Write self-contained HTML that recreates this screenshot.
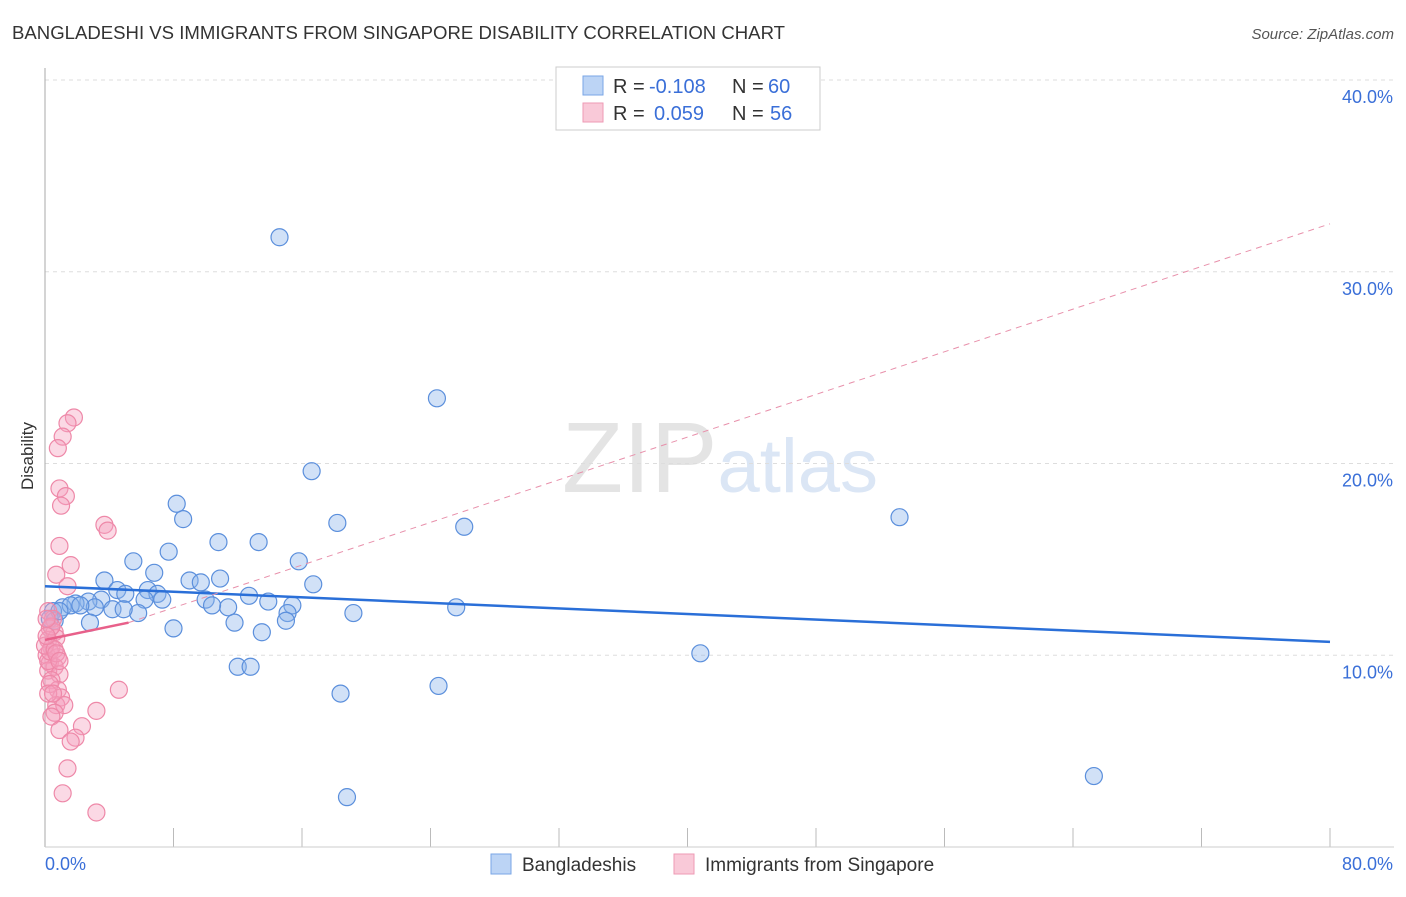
<!DOCTYPE html>
<html><head><meta charset="utf-8"><style>
body{margin:0;background:#fff;font-family:"Liberation Sans",sans-serif}
svg text{font-family:"Liberation Sans",sans-serif}
</style></head><body>
<svg id="chart" width="1406" height="892" xmlns="http://www.w3.org/2000/svg">
<text x="12" y="39" font-size="18" fill="#333" textLength="773" lengthAdjust="spacingAndGlyphs">BANGLADESHI VS IMMIGRANTS FROM SINGAPORE DISABILITY CORRELATION CHART</text>
<text x="1394" y="39" font-size="15" fill="#555" text-anchor="end" font-style="italic">Source: ZipAtlas.com</text>
<text x="720" y="492" font-size="100" fill="#e4e4e4" text-anchor="middle" font-family="Liberation Serif">ZIP<tspan fill="#dbe6f5" font-family="Liberation Sans" font-size="76">atlas</tspan></text>
<g id="grid"></g>
<line x1="45" y1="68" x2="45" y2="847" stroke="#aaa"/>
<line x1="45" y1="847" x2="1394" y2="847" stroke="#ccc"/>
<text transform="translate(33,456) rotate(-90)" font-size="17" fill="#333" text-anchor="middle">Disability</text>
<text x="45" y="870" font-size="18" fill="#3a6fd8">0.0%</text>
<text x="1393" y="870" font-size="18" fill="#3a6fd8" text-anchor="end">80.0%</text>
<g id="marks"></g>
<g>
<rect x="556" y="67" width="264" height="63" fill="#fff" stroke="#ccc"/>
<rect x="583" y="76" width="20" height="19" fill="#bcd4f5" stroke="#7aa6e6"/>
<rect x="583" y="103" width="20" height="19" fill="#f9c9d8" stroke="#ee9ab4"/>
<text x="613" y="93" font-size="20" fill="#333">R =</text>
<text x="649" y="93" font-size="20" fill="#3a6fd8">-0.108</text>
<text x="732" y="93" font-size="20" fill="#333">N =</text>
<text x="768" y="93" font-size="20" fill="#3a6fd8">60</text>
<text x="613" y="120" font-size="20" fill="#333">R =</text>
<text x="654" y="120" font-size="20" fill="#3a6fd8">0.059</text>
<text x="732" y="120" font-size="20" fill="#333">N =</text>
<text x="770" y="120" font-size="20" fill="#3a6fd8">56</text>
</g>
<g>
<rect x="491" y="854" width="20" height="20" fill="#bcd4f5" stroke="#7aa6e6"/>
<text x="522" y="871" font-size="19" fill="#333">Bangladeshis</text>
<rect x="674" y="854" width="20" height="20" fill="#f9c9d8" stroke="#ee9ab4"/>
<text x="705" y="871" font-size="19" fill="#333">Immigrants from Singapore</text>
</g>
</svg>
<script>
const yTicks=[10,20,30,40];
const xTickVals=[0,8,16,24,32,40,48,56,64,72,80];
const blueX=[14.6,24.4,16.6,53.2,18.2,26.1,8.2,8.6,10.8,13.3,7.7,5.5,15.8,6.8,3.7,9.0,9.7,10.9,16.7,4.5,5.0,6.4,7.0,7.3,6.2,12.7,10.0,13.9,15.4,11.4,10.4,3.5,2.7,1.9,1.1,0.5,0.3,5.8,4.2,3.1,15.1,15.0,19.2,25.6,11.8,2.8,8.0,13.5,12.0,12.8,40.8,18.4,24.5,65.3,18.8,0.6,1.6,2.2,0.9,4.9];
const blueY=[31.8,23.4,19.6,17.2,16.9,16.7,17.9,17.1,15.9,15.9,15.4,14.9,14.9,14.3,13.9,13.9,13.8,14.0,13.7,13.4,13.2,13.4,13.2,12.9,12.9,13.1,12.9,12.8,12.6,12.5,12.6,12.9,12.8,12.7,12.5,12.3,11.9,12.2,12.4,12.5,12.2,11.8,12.2,12.5,11.7,11.7,11.4,11.2,9.4,9.4,10.1,8.0,8.4,3.7,2.6,11.8,12.6,12.6,12.3,12.4];
const pinkX=[1.8,1.4,1.1,0.8,0.9,1.3,1.0,3.7,3.9,0.9,1.6,0.7,1.4,0.2,0.5,0.3,0.6,0.2,0.7,0.4,0.1,0.8,0.3,0.6,0.2,0.9,0.4,0.8,4.6,1.0,0.7,1.2,3.2,0.6,0.4,2.3,0.9,1.9,1.6,1.4,1.1,3.2,0.2,0.3,0.0,0.4,0.1,0.6,0.1,0.3,0.2,0.7,0.9,0.5];
const pinkY=[22.4,22.1,21.4,20.8,18.7,18.3,17.8,16.8,16.5,15.7,14.7,14.2,13.6,12.3,11.9,11.4,11.2,10.8,10.9,10.4,10.0,9.9,9.6,9.4,9.2,9.0,8.7,8.2,8.2,7.8,7.4,7.4,7.1,7.0,6.8,6.3,6.1,5.7,5.5,4.1,2.8,1.8,9.7,10.2,10.5,11.5,11.9,10.3,11.0,8.5,8.0,10.1,9.7,8.0];
const X0=45,X1=1330,Y0=847,PY=19.175;
const xs=v=>X0+v/80*(X1-X0);
const ys=v=>Y0-v*PY;
const NS='http://www.w3.org/2000/svg';
const grid=document.getElementById('grid'),marks=document.getElementById('marks'),svg=document.getElementById('chart');
function mk(tag,attrs,parent){const e=document.createElementNS(NS,tag);for(const k in attrs)e.setAttribute(k,attrs[k]);parent.appendChild(e);return e;}
yTicks.forEach(t=>{
 const l=mk('line',{x1:45,x2:1394,y1:ys(t),y2:ys(t),stroke:'#ddd','stroke-dasharray':'4,4'},grid);
 
 
 const tx=mk('text',{x:1393,y:ys(t)+23,'font-size':18,fill:'#3a6fd8','text-anchor':'end'},svg);
 tx.textContent=t.toFixed(1)+'%';
 
 
});
xTickVals.forEach(t=>{
 const l=mk('line',{x1:xs(t),x2:xs(t),y1:828,y2:847,stroke:'#bbb'},grid);
 
 
});
blueX.forEach((v,i)=>{
 const c=mk('circle',{cx:xs(v),cy:ys(blueY[i]),r:8.5,fill:'rgba(140,180,235,0.4)',stroke:'#5b8fdc','stroke-width':1.2},marks);
 
 
});
pinkX.forEach((v,i)=>{
 const c=mk('circle',{cx:xs(v),cy:ys(pinkY[i]),r:8.5,fill:'rgba(245,160,190,0.4)',stroke:'#ee88a8','stroke-width':1.2},marks);
 
 
});
const bl=mk('line',{x1:xs(0),y1:ys(13.6),x2:xs(80),y2:ys(10.7),stroke:'#2a6fd8','stroke-width':2.5},marks);


const pd=mk('line',{x1:xs(5.2),y1:ys(11.7),x2:xs(80),y2:ys(32.5),stroke:'#e890ab','stroke-width':1,'stroke-dasharray':'6,5'},marks);


const ps=mk('line',{x1:xs(0),y1:ys(10.8),x2:xs(5.2),y2:ys(11.7),stroke:'#e8608a','stroke-width':2.5},marks);


</script>
</body></html>
